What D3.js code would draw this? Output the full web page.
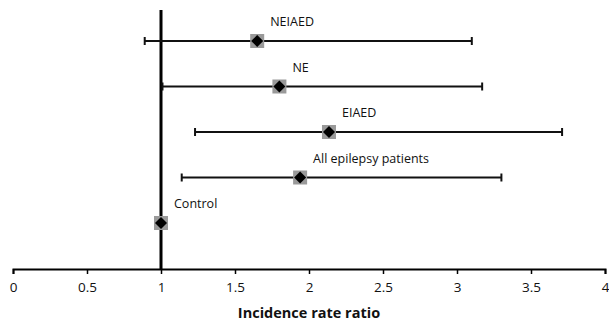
<!DOCTYPE html>
<html>
<head>
<meta charset="utf-8">
<script src="https://cdn.jsdelivr.net/npm/d3@7"></script>
<style>
  body { margin: 0; background: #fff; }
  svg text { font-family: "Open Sans", sans-serif; fill: #111; }
</style>
</head>
<body>
<div id="chart"></div>
<script>
// Data
const groups = ["NEIAED", "NE", "EIAED", "All epilepsy patients", "Control"];
const estimates = [1.65, 1.80, 2.135, 1.94, 1.0];
const lowerCI = [0.89, 1.01, 1.23, 1.14, null];
const upperCI = [3.10, 3.17, 3.71, 3.30, null];
const xTicks = [0, 0.5, 1, 1.5, 2, 2.5, 3, 3.5, 4];

const width = 609, height = 325;

const svg = d3.select("#chart")
    .append("svg")
    .attr("width", width)
    .attr("height", height);

// Scales
const x = d3.scaleLinear().domain([0, 4]).range([13, 605]);
const y = d3.scalePoint().domain(groups).range([41, 223]);
const axisY = 269;

// Vertical reference line at 1
svg.append("line")
    .attr("x1", x(1)).attr("x2", x(1))
    .attr("y1", 10).attr("y2", axisY)
    .attr("stroke", "#000")
    .attr("stroke-width", 3);

// X axis
const xAxis = svg.append("g")
    .attr("transform", `translate(0, ${axisY})`)
    .call(d3.axisBottom(x).tickValues(xTicks).tickSize(5).tickPadding(8)
        .tickFormat(d => String(d)));
xAxis.select(".domain").attr("stroke", "#000").attr("stroke-width", 2);
xAxis.selectAll(".tick line").attr("stroke", "#000").attr("stroke-width", 1.5);
xAxis.selectAll(".tick text").attr("font-size", "13.5px").attr("fill", "#111");

// Axis title
svg.append("text")
    .attr("x", x(2))
    .attr("y", 318)
    .attr("text-anchor", "middle")
    .attr("font-size", "14.5px")
    .attr("font-weight", "bold")
    .text("Incidence rate ratio");

const rows = groups.map((g, i) => ({ g, est: estimates[i], lo: lowerCI[i], hi: upperCI[i] }));

// Error bars
const bars = rows.filter(d => d.lo != null);
svg.selectAll("line.ci")
    .data(bars)
    .enter()
    .append("line")
    .attr("class", "ci")
    .attr("x1", d => x(d.lo)).attr("x2", d => x(d.hi))
    .attr("y1", d => y(d.g)).attr("y2", d => y(d.g))
    .attr("stroke", "#111").attr("stroke-width", 2);

// Caps
bars.forEach(d => {
    [d.lo, d.hi].forEach(v => {
        svg.append("line")
            .attr("x1", x(v)).attr("x2", x(v))
            .attr("y1", y(d.g) - 4).attr("y2", y(d.g) + 4)
            .attr("stroke", "#111").attr("stroke-width", 2);
    });
});

// Grey square behind each point
svg.selectAll("rect.bg")
    .data(rows)
    .enter()
    .append("rect")
    .attr("class", "bg")
    .attr("x", d => x(d.est) - 7)
    .attr("y", d => y(d.g) - 7)
    .attr("width", 14).attr("height", 14)
    .attr("fill", "#9a9a9a");

// Black diamonds
svg.selectAll("path.pt")
    .data(rows)
    .enter()
    .append("path")
    .attr("class", "pt")
    .attr("transform", d => `translate(${x(d.est)}, ${y(d.g)})`)
    .attr("d", "M0,-6L6,0L0,6L-6,0Z")
    .attr("fill", "#000");

// Labels
svg.selectAll("text.lbl")
    .data(rows)
    .enter()
    .append("text")
    .attr("class", "lbl")
    .attr("x", d => x(d.est) + 13)
    .attr("y", d => y(d.g) - 15)
    .attr("font-size", "12.5px")
    .text(d => d.g);
</script>
</body>
</html>
